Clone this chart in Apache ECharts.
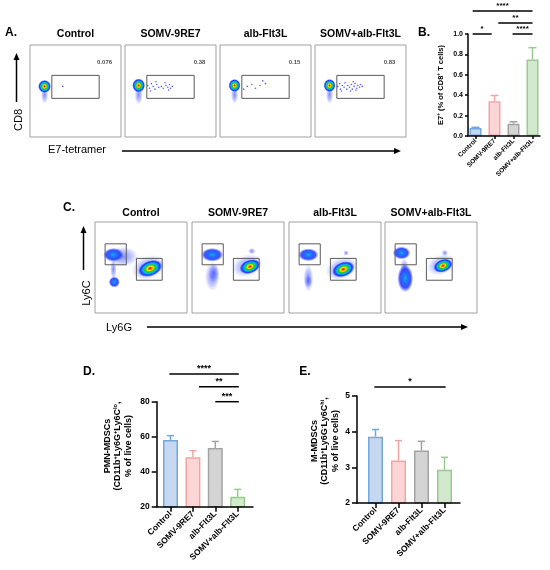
<!DOCTYPE html>
<html>
<head>
<meta charset="utf-8">
<script src="https://cdn.jsdelivr.net/npm/echarts@6/dist/echarts.min.js"></script>
<style>
html, body { margin: 0; padding: 0; background: #fff; }
#main { width: 550px; height: 570px; }
</style>
</head>
<body>
<div id="main"></div>
<script>
// ---- data ----
var groups = ['Control', 'SOMV-9RE7', 'alb-Flt3L', 'SOMV+alb-Flt3L'];

// B. E7-tetramer+ (% of CD8+ T cells): mean and SEM
var e7Mean = [0.079, 0.34, 0.12, 0.75];
var e7Sem = [0.006, 0.057, 0.02, 0.116];
// significance: [from group, to group, height, stars]
var e7Sig = [[-0.15, 0.85, 1.0, '*'], [-0.15, 3.0, 1.225, '****'], [1.2, 3.0, 1.108, '**'], [1.95, 3.0, 1.0, '****']];

// D. PMN-MDSCs
var pmnMean = [58.1, 48.2, 53.5, 25.7];
var pmnSem = [2.5, 3.8, 3.8, 4.2];
var pmnSig = [[-0.05, 3.05, 95.8, '****'], [1.27, 3.05, 88.6, '**'], [2.0, 3.05, 80, '***']];

// E. M-MDSCs
var mMean = [3.86, 3.19, 3.47, 2.93];
var mSem = [0.2, 0.56, 0.26, 0.35];
var mSig = [[-0.05, 3.05, 5.25, '*']];

// A. CD8 vs E7-tetramer dot plots (axis units 0-100)
var aGate = [24, 42, 76, 67];
var aFreq = ['0.076', '0.38', '0.15', '0.83'];
// populations: [x, y, spread x, spread y, tilt, density 1-3]
var aPops = [
  [[16, 46, 8, 20, 0, 1], [16, 55, 14, 14, 0, 3]],
  [[15, 46, 9, 22, 0, 1], [15, 56, 14, 15, 0, 3]],
  [[16, 46, 8, 20, 0, 1], [16, 56, 13, 14, 0, 3]],
  [[16, 46, 8, 20, 0, 1], [16, 56, 13, 14, 0, 3]]
];
// single events inside the gate
var aEvents = [
  [[36, 55]],
  [[25, 56], [27, 53], [29, 58], [31, 55], [33, 52], [35, 57], [37, 54], [40, 55], [42, 53], [45, 56],
   [47, 54], [49, 57], [50, 53], [52, 55], [48, 51], [28, 50], [34, 60], [44, 59]],
  [[30, 55], [35, 57], [39, 53], [44, 56], [50, 58], [26, 52], [47, 61]],
  [[25, 55], [27, 58], [28, 52], [30, 56], [32, 54], [33, 59], [35, 52], [36, 56], [38, 54], [40, 57],
   [41, 52], [43, 55], [44, 58], [46, 53], [47, 56], [49, 54], [50, 57], [52, 55], [29, 50], [39, 50],
   [42, 60], [45, 51]]
];

// C. Ly6C vs Ly6G dot plots
var cGates = [[11, 53, 34, 76], [45, 36, 73, 60]];
var cPops = [
  [[30, 62, 34, 22, 0, 1], [20, 48, 7, 22, 0, 1], [58, 50, 38, 26, 20, 1],
   [20, 64, 22, 15, 0, 2], [21, 34, 12, 12, 0, 2], [60, 49, 27, 17, 20, 3]],
  [[22, 40, 16, 32, 0, 1], [24, 44, 12, 22, 0, 1], [60, 52, 34, 24, 20, 1], [65, 68, 8, 7, 0, 1],
   [22, 64, 24, 15, 0, 2], [63, 51, 23, 15, 20, 3]],
  [[21, 38, 11, 30, 0, 1], [21, 35, 8, 14, 0, 1], [57, 49, 36, 24, 20, 1], [62, 66, 6, 6, 0, 1],
   [21, 64, 22, 14, 0, 2], [59, 48, 25, 16, 20, 3]],
  [[21, 50, 9, 20, 0, 1], [61, 53, 32, 22, 20, 1], [65, 66, 7, 7, 0, 1],
   [18, 66, 19, 14, 0, 2], [22, 38, 17, 30, 0, 2], [63, 52, 21, 14, 20, 3]]
];

var groupFill = ['#c5d8ef', '#fcd6d6', '#d4d4d4', '#d3e9ce'];
var groupEdge = ['#72a8de', '#f5a4a4', '#a3a3a3', '#99ca91'];
var FONT = 'Liberation Sans';

var chart = echarts.init(document.getElementById('main'));

var grids = [], xAxes = [], yAxes = [], series = [];

function densityColor(d) {
  if (d === 3) {
    return { type: 'radial', x: 0.5, y: 0.5, r: 0.5, colorStops: [
      { offset: 0, color: '#e00000' }, { offset: 0.12, color: '#ff5a00' }, { offset: 0.25, color: '#ffe000' },
      { offset: 0.42, color: '#22cc22' }, { offset: 0.6, color: '#00b8f0' }, { offset: 0.8, color: '#1838ff' },
      { offset: 1, color: 'rgba(30,50,255,0.1)' }] };
  }
  if (d === 2) {
    return { type: 'radial', x: 0.5, y: 0.5, r: 0.5, colorStops: [
      { offset: 0, color: '#10a8f0' }, { offset: 0.35, color: '#2070f8' }, { offset: 0.7, color: 'rgba(30,50,255,0.85)' },
      { offset: 1, color: 'rgba(50,70,255,0.05)' }] };
  }
  return { type: 'radial', x: 0.5, y: 0.5, r: 0.5, colorStops: [
    { offset: 0, color: 'rgba(40,60,255,0.6)' }, { offset: 0.6, color: 'rgba(60,80,255,0.3)' },
    { offset: 1, color: 'rgba(80,100,255,0)' }] };
}

function addFlow(rect, pops, events, gates, freq) {
  var g = grids.length;
  grids.push({ left: rect[0], top: rect[1], width: rect[2], height: rect[3], show: true,
    borderColor: '#a0a0a0', borderWidth: 1, backgroundColor: '#fff', outerBoundsMode: 'none' });
  xAxes.push({ gridIndex: g, type: 'value', min: 0, max: 100, show: false });
  yAxes.push({ gridIndex: g, type: 'value', min: 0, max: 100, show: false });
  series.push({
    type: 'scatter', xAxisIndex: g, yAxisIndex: g, silent: true, symbol: 'circle',
    data: pops.map(function (p) {
      return { value: [p[0], p[1]], symbolSize: [p[2] * rect[2] / 100, p[3] * rect[3] / 100],
        symbolRotate: p[4], itemStyle: { color: densityColor(p[5]), opacity: 1 } };
    })
  });
  series.push({
    type: 'scatter', xAxisIndex: g, yAxisIndex: g, silent: true, symbolSize: 1.6,
    itemStyle: { color: '#3a4cf0', opacity: 0.85 }, data: events
  });
  series.push({
    type: 'custom', xAxisIndex: g, yAxisIndex: g, silent: true, z: 5, data: gates,
    renderItem: function (params, api) {
      var p1 = api.coord([api.value(0), api.value(3)]);
      var p2 = api.coord([api.value(2), api.value(1)]);
      return { type: 'rect', shape: { x: p1[0], y: p1[1], width: p2[0] - p1[0], height: p2[1] - p1[1] },
        style: { fill: null, stroke: '#5a5a5a', lineWidth: 1 } };
    }
  });
  if (freq) {
    series.push({
      type: 'scatter', xAxisIndex: g, yAxisIndex: g, silent: true, symbolSize: 0, z: 6,
      data: [{ value: [82, 81], name: freq }],
      label: { show: true, position: 'inside', formatter: '{b}', fontSize: 6, fontWeight: 'bold', color: '#222' }
    });
  }
}

function addBars(frame, dataRect, yCfg, mean, sem, labelSize, barW, cap) {
  var f = grids.length;
  grids.push({ left: frame[0], top: frame[1], width: frame[2], height: frame[3], outerBoundsMode: 'none' });
  xAxes.push({ gridIndex: f, type: 'value', min: 0, max: 1, z: 10,
    axisLine: { show: true, onZero: false, lineStyle: { color: '#000', width: 1.5 } },
    axisTick: { show: false }, axisLabel: { show: false }, splitLine: { show: false } });
  yAxes.push({ gridIndex: f, type: 'value', min: yCfg.min, max: yCfg.max, interval: yCfg.interval, z: 10,
    axisLine: { show: true, onZero: false, lineStyle: { color: '#000', width: 1.5 } },
    axisTick: { show: true, inside: false, length: yCfg.tick, lineStyle: { color: '#000', width: 1.5 } },
    axisLabel: { inside: false, color: '#000', fontWeight: 'bold', fontSize: yCfg.fontSize, margin: yCfg.tick + 2,
      fontFamily: FONT, formatter: yCfg.fmt },
    splitLine: { show: false } });
  var d = grids.length;
  grids.push({ left: dataRect[0], top: frame[1], width: dataRect[1], height: frame[3], outerBoundsMode: 'none' });
  xAxes.push({ gridIndex: d, type: 'category', data: groups, z: 10,
    axisLine: { show: false },
    axisTick: { show: true, inside: false, alignWithLabel: true, length: yCfg.tick,
      lineStyle: { color: '#000', width: 1.5 } },
    axisLabel: { interval: 0, rotate: 45, color: '#000', fontWeight: 'bold', fontSize: labelSize,
      margin: yCfg.tick + 1, fontFamily: FONT } });
  yAxes.push({ gridIndex: d, type: 'value', min: yCfg.min, max: yCfg.max, show: false });
  series.push({
    type: 'bar', xAxisIndex: d, yAxisIndex: d, barWidth: barW, silent: true,
    data: mean.map(function (v, i) {
      return { value: v, itemStyle: { color: groupFill[i], borderColor: groupEdge[i], borderWidth: 1.5 } };
    })
  });
  series.push({
    type: 'custom', xAxisIndex: d, yAxisIndex: d, silent: true, z: 3,
    data: mean.map(function (v, i) { return [i, v, sem[i]]; }),
    renderItem: function (params, api) {
      var i = params.dataIndex;
      var p0 = api.coord([api.value(0), api.value(1)]);
      var p1 = api.coord([api.value(0), api.value(1) + api.value(2)]);
      var st = { stroke: groupEdge[i], lineWidth: 1.5 };
      return { type: 'group', children: [
        { type: 'line', shape: { x1: p0[0], y1: p0[1], x2: p1[0], y2: p1[1] }, style: st },
        { type: 'line', shape: { x1: p1[0] - cap, y1: p1[1], x2: p1[0] + cap, y2: p1[1] }, style: st }
      ] };
    }
  });
  return d;
}

var aLeft = [30, 125, 220, 315];
var cLeft = [95, 192, 289, 385];
aLeft.forEach(function (l, k) { addFlow([l, 45, 91, 92], aPops[k], aEvents[k], [aGate], aFreq[k]); });
cLeft.forEach(function (l, k) { addFlow([l, 222, 92, 91], cPops[k], [], cGates, null); });

var fmt1 = function (v) { return v.toFixed(1); };
var bIdx = addBars([468, 34, 72, 102], [466, 76], { min: 0, max: 1, interval: 0.2, tick: 3, fontSize: 7, fmt: fmt1 },
  e7Mean, e7Sem, 6.5, 12, 4);
var dIdx = addBars([156.7, 401.7, 96.3, 105], [159.3, 89.6], { min: 20, max: 80, interval: 20, tick: 5, fontSize: 8.5 },
  pmnMean, pmnSem, 8.5, 15, 3.5);
var eIdx = addBars([357, 396, 103, 107], [364, 92], { min: 2, max: 5, interval: 1, tick: 5, fontSize: 8.5 },
  mMean, mSem, 8.5, 15, 3.5);

chart.setOption({
  animation: false,
  backgroundColor: '#fff',
  textStyle: { fontFamily: FONT },
  grid: grids, xAxis: xAxes, yAxis: yAxes, series: series
});

// ---- annotations ----
var gfx = [];
function txt(x, y, s, size, weight, rot, extra) {
  var el = { type: 'text', x: x, y: y, rotation: rot || 0, silent: true,
    style: { text: s, fontSize: size, fontWeight: weight, fontFamily: FONT, fill: '#000',
      align: 'center', verticalAlign: 'middle' } };
  if (extra) { for (var k in extra) el.style[k] = extra[k]; }
  gfx.push(el);
}
function line(x1, y1, x2, y2) {
  gfx.push({ type: 'line', silent: true, shape: { x1: x1, y1: y1, x2: x2, y2: y2 },
    style: { stroke: '#000', lineWidth: 1.5 } });
}
function head(pts) {
  gfx.push({ type: 'polygon', silent: true, shape: { points: pts }, style: { fill: '#000' } });
}

// panel letters
txt(11, 33, 'A.', 12, 'bold');
txt(424, 33, 'B.', 12, 'bold');
txt(69, 208, 'C.', 12, 'bold');
txt(89, 372, 'D.', 12, 'bold');
txt(305, 372, 'E.', 12, 'bold');

// plot titles
groups.forEach(function (gname, k) {
  txt(aLeft[k] + 45.5, 34, gname, 10.5, 'bold');
  txt(cLeft[k] + 46, 213, gname, 10.5, 'bold');
});

// flow axis captions and arrows
txt(19, 120, 'CD8', 11, 'normal', Math.PI / 2);
line(16.5, 102, 16.5, 58); head([[13.5, 60], [19.5, 60], [16.5, 53]]);
txt(77, 150, 'E7-tetramer', 11, 'normal');
line(122, 151, 396, 151); head([[394, 148], [394, 154], [401, 151]]);
txt(87, 293, 'Ly6C', 11, 'normal', Math.PI / 2);
line(83.5, 270, 83.5, 232); head([[80.5, 233], [86.5, 233], [83.5, 226]]);
txt(119, 328, 'Ly6G', 11, 'normal');
line(147, 327, 462, 327); head([[461, 324], [461, 330], [468, 327]]);

// bar y titles
var rich = function (size) {
  return {
    n: { fontSize: size, fontWeight: 'bold', fontFamily: FONT, lineHeight: size + 1.5 },
    s: { fontSize: size * 0.62, fontWeight: 'bold', fontFamily: FONT, verticalAlign: 'top', lineHeight: 4 }
  };
};
txt(441, 85, '{n|E7}{s|+}{n| (% of CD8}{s|+}{n| T cells)}', 7.5, 'bold', Math.PI / 2, { rich: rich(7.5) });
txt(118, 446, '{n|PMN-MDSCs}\n{n|(CD11b}{s|+}{n|Ly6G}{s|+}{n|Ly6C}{s|lo}{n|,}\n{n|% of live cells)}', 9, 'bold',
  Math.PI / 2, { rich: rich(9) });
txt(325, 441, '{n|M-MDSCs}\n{n|(CD11b}{s|+}{n|Ly6G}{s|-}{n|Ly6C}{s|hi}{n|,}\n{n|% of live cells)}', 9, 'bold',
  Math.PI / 2, { rich: rich(9) });

// significance bars
function sig(idx, list, size) {
  var c0 = chart.convertToPixel({ xAxisIndex: idx }, groups[0]);
  var c1 = chart.convertToPixel({ xAxisIndex: idx }, groups[1]);
  var step = c1 - c0;
  list.forEach(function (s) {
    var xa = c0 + s[0] * step, xb = c0 + s[1] * step;
    var y = chart.convertToPixel({ yAxisIndex: idx }, s[2]);
    line(xa, y, xb, y);
    txt((xa + xb) / 2, y - 1, s[3], size, 'bold', 0, { verticalAlign: 'bottom' });
  });
}
sig(bIdx, e7Sig, 8);
sig(dIdx, pmnSig, 9);
sig(eIdx, mSig, 9);

chart.setOption({ graphic: { elements: gfx } });
</script>
</body>
</html>
